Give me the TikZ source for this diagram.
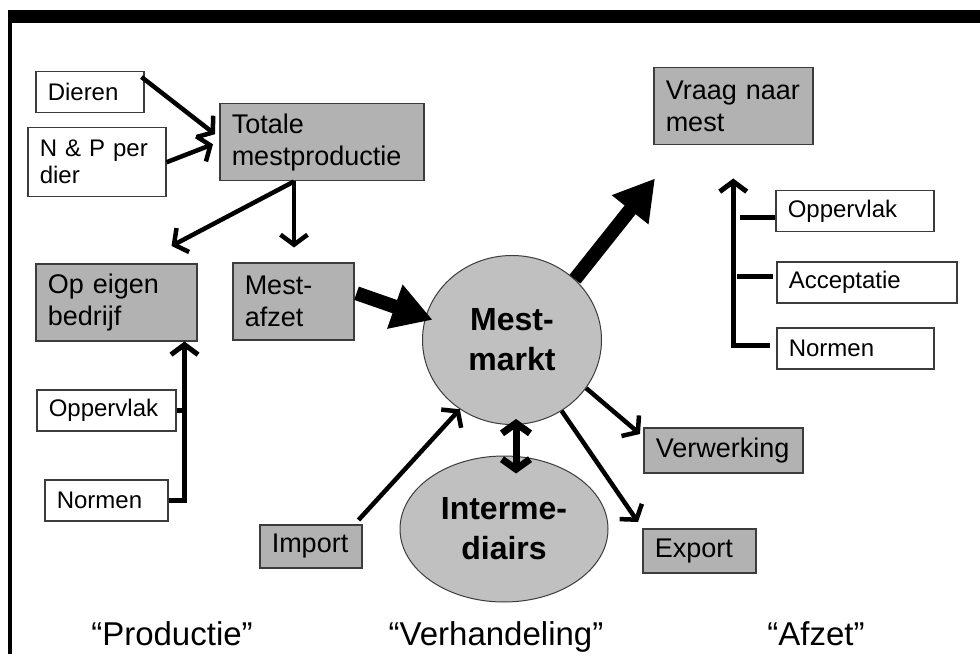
\documentclass[tikz,border=0pt]{standalone}
\usepackage{fontspec}
\setmainfont{Liberation Sans}
\usetikzlibrary{arrows.meta,shapes.geometric,calc}
\definecolor{boxgray}{RGB}{178,178,178}
\definecolor{circgray}{RGB}{192,192,192}
\definecolor{boxline}{RGB}{60,60,60}
\begin{document}
\begin{tikzpicture}[x=1pt,y=-1pt,
 gbox/.style={draw=boxline, line width=1.5pt, fill=boxgray, anchor=north west, inner xsep=12pt, inner ysep=0pt, align=left, font=\fontsize{27}{32}\selectfont},
 wbox/.style={gbox, fill=white, font=\fontsize{24}{27}\selectfont},
 circ/.style={ellipse, draw=boxline, line width=1pt, fill=circgray, inner sep=0pt, align=center, font=\bfseries\fontsize{32}{40}\selectfont},
 arr/.style={line width=4.5pt, -{Straight Barb[length=10pt,width=27pt]}},
 bigarr/.style={line width=14pt, -{Triangle[length=40pt,width=44pt]}},
 feed/.style={line width=5pt},
 phase/.style={anchor=base, font=\fontsize{33}{40}\selectfont}
]
\fill[white] (0,0) rectangle (980,654);
\fill[black] (8,10) rectangle (980,23);
\fill[black] (8,10) rectangle (12,654);

% boxes
\node[wbox, text width=84, minimum height=41] (dier) at (35,71) {Dieren};
\node[wbox, text width=114, minimum height=69] (np) at (27,127) {N \& P per\\dier};
\node[gbox, text width=180, minimum height=77] (tot) at (219,103) {Totale\\mestproductie};
\node[gbox, text width=137, minimum height=77] (eigen) at (35,263) {Op eigen\\bedrijf};
\node[gbox, text width=97, minimum height=77] (afzet) at (232,262) {Mest-\\afzet};
\node[wbox, text width=115, minimum height=41] (oppL) at (36,389) {Oppervlak};
\node[wbox, text width=99, minimum height=41] (normL) at (44,479) {Normen};
\node[gbox, text width=78, minimum height=43] (imp) at (259,524) {Import};
\node[gbox, text width=135, minimum height=77] (vraag) at (653,67) {Vraag naar\\mest};
\node[wbox, text width=134, minimum height=41] (oppR) at (775,190) {Oppervlak};
\node[wbox, text width=156, minimum height=41] (acc) at (776,261) {Acceptatie};
\node[wbox, text width=133, minimum height=41] (normR) at (776,327) {Normen};
\node[gbox, text width=135, minimum height=45] (verw) at (643,427) {Verwerking};
\node[gbox, text width=89, minimum height=44] (exp) at (642,528) {Export};

% ellipses
\node[circ, minimum width=179, minimum height=169] (markt) at (512,340) {Mest-\\markt};
\node[circ, minimum width=208, minimum height=146] (inter) at (504,529) {Interme-\\diairs};

% production arrows
\draw[arr] ($(dier.north east)+(-3,6)$) -- ($(tot.west)+(-4,-8)$);
\draw[arr] (np.east) -- ($(tot.west)+(-6,2)$);
\draw[arr] ($(tot.south west)+(75,0)$) -- ($(eigen.north east)+(-26,-17)$);
\draw[arr] ($(tot.south west)+(75,0)$) -- ($(tot.south west)+(75,66)$);
\draw[feed, -{Straight Barb[length=10pt,width=27pt]}] (normL.east) -| ($(eigen.south east)+(-13,0)$);
\draw[feed] (oppL.east) -- ++(8,0);

% market arrows
\draw[bigarr] ($(afzet.east)+(2,-8)$) -- ($(markt.167)+(8,0)$);
\draw[bigarr] (markt.44) -- ($(vraag.south west)+(2,33)$);
\draw[arr] ($(imp.north east)+(-4,-4)$) -- (markt.233);
\draw[arr] (markt.-33) -- ($(verw.north west)+(-3,7)$);
\draw[arr] (markt.-55) -- ($(exp.north west)+(-4,-6)$);
\draw[line width=7pt, {Straight Barb[length=10pt,width=28pt]}-{Straight Barb[length=10pt,width=28pt]}] ($(markt.south)+(4,-6)$) -- ($(inter.north)+(12,18)$);

% demand side
\draw[feed, -{Straight Barb[length=10pt,width=27pt]}] ($(normR.west)+(-6,-3)$) -| ($(vraag.south)+(0,33)$);
\draw[feed] ($(oppR.west)+(0,6)$) -- ++(-35,0);
\draw[feed] ($(acc.west)+(-3,-6)$) -- ++(-36,0);

% phase labels
\node[phase] (p1) at (172,645) {“Productie”};
\node[phase] (p2) at (496,645) {“Verhandeling”};
\node[phase] (p3) at (816,645) {“Afzet”};
\end{tikzpicture}
\end{document}
